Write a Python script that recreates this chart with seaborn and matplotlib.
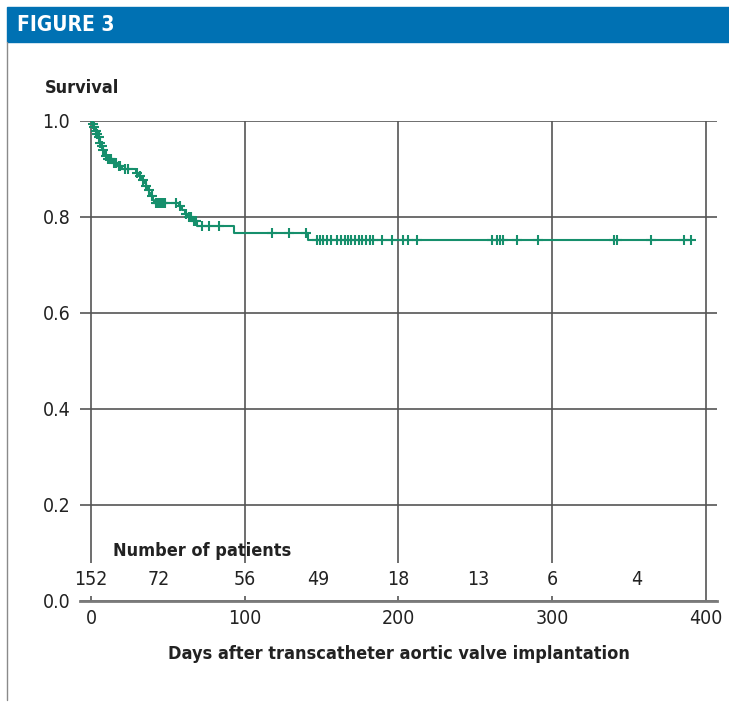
import numpy as np
import pandas as pd
import seaborn as sns
import matplotlib.pyplot as plt
from matplotlib.patches import Rectangle
from matplotlib.lines import Line2D

# Kaplan-Meier Stufen (Tage, Überleben nach dem Ereignis)
step_days = [0, 0.5, 1.5, 2.5, 3.5, 4.5, 5.5, 6.5, 7.5, 9, 10.5, 14, 17, 20,
             29, 31, 33, 34.5, 35.5, 37, 38, 39, 40, 41,
             57, 59, 61, 63, 66, 69, 93, 141, 390]
step_surv = [1.0, 0.993, 0.987, 0.980, 0.973, 0.967, 0.954, 0.947, 0.940, 0.927, 0.920, 0.913, 0.906, 0.899,
             0.892, 0.885, 0.878, 0.871, 0.864, 0.857, 0.850, 0.843, 0.836, 0.830,
             0.822, 0.814, 0.806, 0.799, 0.792, 0.781, 0.767, 0.752, 0.752]

# zensierte Beobachtungen (Tage)
censor_days = [1, 2, 3, 4, 5, 6, 7, 8, 9.5, 11, 12, 13, 15, 16, 18, 19, 22, 24,
               30, 32, 34, 36, 37.5, 39.5, 42, 43, 44, 45, 46, 47, 48, 55,
               58, 62, 64, 65, 67, 68, 72, 77, 83,
               118, 129, 140, 147, 149, 151, 153.5, 156, 160, 162.6, 165, 167, 169,
               172, 174, 176, 179, 181.5, 183.5, 189, 196, 203, 206, 212,
               261, 264, 266, 268, 277, 291, 340, 342, 364, 386, 390]

# Patienten unter Risiko
risk_days = [0, 44, 100, 148, 200, 252, 300, 355]
risk_n = [152, 72, 56, 49, 18, 13, 6, 4]

df_km = pd.DataFrame({'days': step_days, 'survival': step_surv})
idx = np.searchsorted(step_days, censor_days, side='right') - 1
df_cens = pd.DataFrame({'days': censor_days, 'survival': np.array(step_surv)[idx]})

green = '#168f6c'
W, H = 729, 706

sns.set_style('white')
plt.rcParams['font.family'] = ['DejaVu Sans']
plt.rcParams['font.stretch'] = 'condensed'

fig = plt.figure(figsize=(W / 100, H / 100), dpi=100)

# Kopfzeile
fig.patches.append(Rectangle((7 / W, 1 - 42 / H), (W - 7) / W, 35 / H,
                             transform=fig.transFigure, color='#0071b3', zorder=0))
fig.text(17 / W, 1 - 25 / H, 'FIGURE 3', color='white', fontsize=15,
         fontweight='bold', va='center', ha='left')
fig.add_artist(Line2D([7 / W, 7 / W], [1 - 42 / H, 1 - 700 / H],
                      color='#8a8a8a', lw=1, transform=fig.transFigure))

ax = fig.add_axes([80 / W, 1 - 601 / H, 637 / W, 480 / H])

sns.lineplot(data=df_km, x='days', y='survival', drawstyle='steps-post',
             color=green, lw=1.5, ax=ax, zorder=4)
sns.scatterplot(data=df_cens, x='days', y='survival', marker='+', s=50,
                color=green, linewidth=1.5, ax=ax, zorder=5)

ax.set_xlim(-7.2, 407.2)
ax.set_ylim(0, 1)
ax.set_xticks([0, 100, 200, 300, 400])
ax.set_yticks([0, 0.2, 0.4, 0.6, 0.8, 1.0])
ax.set_yticklabels(['0.0', '0.2', '0.4', '0.6', '0.8', '1.0'])
ax.set_axisbelow(True)
ax.grid(True, color='#555555', lw=1.2)
for side in ['top', 'left', 'right']:
    ax.spines[side].set_visible(False)
ax.spines['bottom'].set_color('#7a7a7a')
ax.spines['bottom'].set_linewidth(2)
ax.tick_params(axis='y', length=0, pad=7, labelsize=14, labelcolor='#222222')
ax.tick_params(axis='x', length=4, width=1, color='#7a7a7a', direction='out',
               pad=2, labelsize=14, labelcolor='#222222')

for d, n in zip(risk_days, risk_n):
    ax.text(d, 0.044, str(n), ha='center', va='center', fontsize=14, color='#222222',
            zorder=3, bbox=dict(facecolor='white', edgecolor='none', pad=5))
ax.text(14.3, 0.104, 'Number of patients', ha='left', va='center', fontsize=13,
        fontweight='bold', color='#222222')

ax.set_xlabel('Days after transcatheter aortic valve implantation', fontsize=13,
              fontweight='bold', color='#222222', labelpad=12)
ax.set_ylabel('')
fig.text(45 / W, 1 - 88 / H, 'Survival', fontsize=13, fontweight='bold',
         color='#222222', va='center', ha='left')

fig.savefig('out.png', dpi=100)
